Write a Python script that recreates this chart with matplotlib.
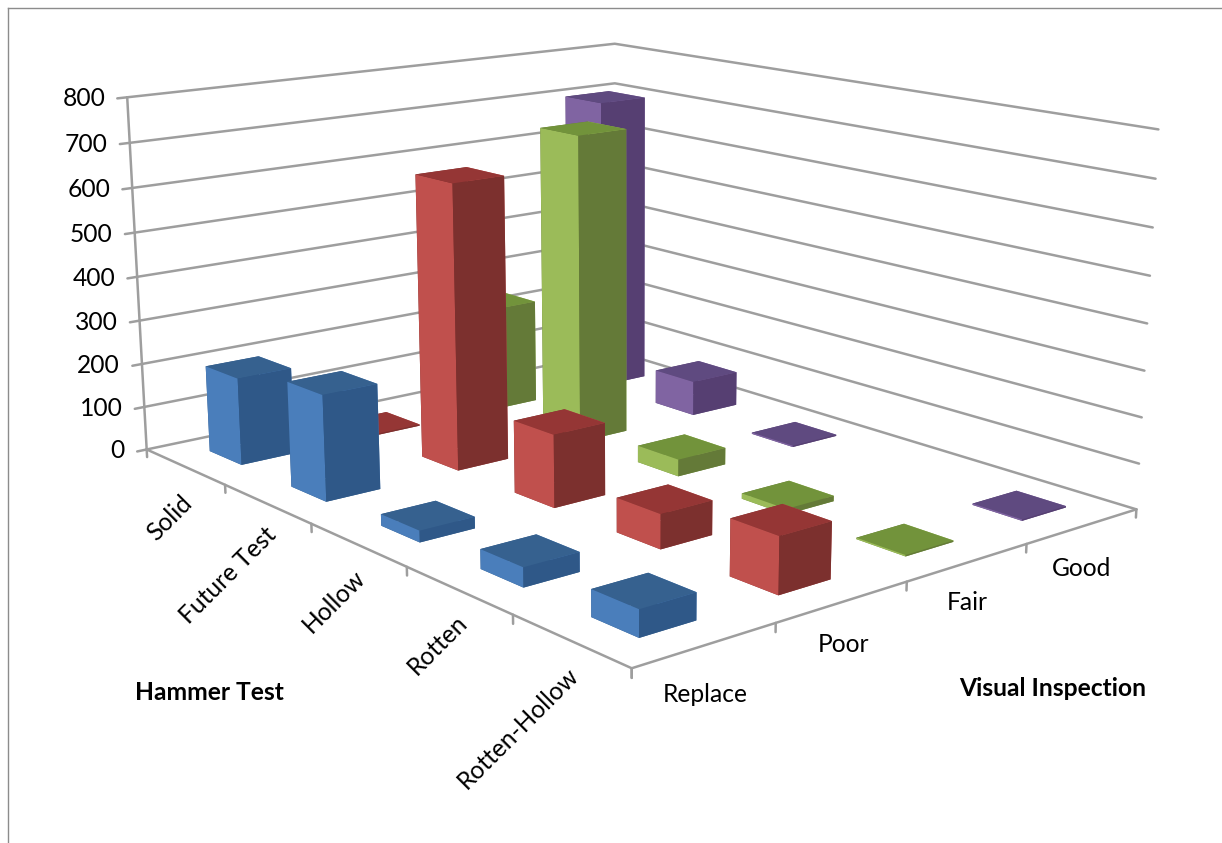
import numpy as np
import matplotlib
matplotlib.use("Agg")
import matplotlib.pyplot as plt
from matplotlib.lines import Line2D
from mpl_toolkits.mplot3d import Axes3D

W, H = 1222, 843
plt.rcParams["font.family"] = ["Lato", "DejaVu Sans"]

hammer_tests = ["Solid", "Future Test", "Hollow", "Rotten", "Rotten-Hollow"]
visual_grades = ["Replace", "Poor", "Fair", "Good"]
z_ticks = [0, 100, 200, 300, 400, 500, 600, 700, 800]

replace_counts = [198, 234, 25, 41, 55]
poor_counts = [3, 640, 160, 74, 118]
fair_counts = [245, 705, 38, 12, 3]
good_counts = [702, 81, 3, 0, 3]
counts = [replace_counts, poor_counts, fair_counts, good_counts]

# (top, lit side, shaded side) for each visual grade
face_colors = [
    ("#36618F", "#4A7EBB", "#2F5888"),
    ("#953635", "#C0504D", "#7C302E"),
    ("#72933B", "#9BBB59", "#647A38"),
    ("#5F4A80", "#8064A2", "#563F72"),
]
BAR_WIDTH = 0.4

# Camera calibration: world point (hammer, grade, count) -> pixel on the canvas
world_pts = np.array([
    (0, 0, 0), (5, 0, 0), (5, 4, 0), (0, 4, 0), (0, 0, 800), (0, 4, 800),
    (5, 4, 800), (0, 4, 700), (5, 4, 100), (1, 0, 0), (2, 0, 0), (5, 1, 0), (5, 3, 0),
], float)
pixel_pts = np.array([
    (147, 448), (632, 669), (1136, 508), (615, 353), (127, 98), (615, 43),
    (1158, 130), (615, 83), (1140, 463), (225, 485), (311, 523), (776, 624), (1026, 544),
], float)


def fit_camera(world, pixel):
    rows = []
    for (x, y, z), (u, v) in zip(world, pixel):
        p = [x, y, z, 1.0]
        rows.append(p + [0, 0, 0, 0] + [-u * c for c in p])
        rows.append([0, 0, 0, 0] + p + [-v * c for c in p])
    rows = np.array(rows)
    scale = np.array([1, 1, 100, 1] * 3, float)
    _, _, vt = np.linalg.svd(rows * scale)
    cam = (vt[-1] * scale).reshape(3, 4)
    return cam if cam[2, 3] > 0 else -cam


CAMERA = fit_camera(world_pts, pixel_pts)


class CalibratedAxes3D(Axes3D):
    """3D axes whose projection comes from a fitted pinhole camera."""

    def apply_aspect(self, position=None):
        pass

    def get_proj(self):
        inv = self.transData.inverted()
        o = inv.transform((0, H))
        ex = inv.transform((1, H)) - o
        ey = inv.transform((0, H - 1)) - o
        row_u = ex[0] * CAMERA[0] + ey[0] * CAMERA[1] + o[0] * CAMERA[2]
        row_v = ex[1] * CAMERA[0] + ey[1] * CAMERA[1] + o[1] * CAMERA[2]
        # depth term -1/w grows with distance from the camera
        return np.array([row_u, row_v, [0, 0, 0, -1.0], CAMERA[2]])


fig = plt.figure(figsize=(W / 100, H / 100), dpi=100, facecolor="white")
ax = CalibratedAxes3D(fig, [0, 0, 1, 1], computed_zorder=False)
fig.add_axes(ax)
ax.set_axis_off()
ax.patch.set_visible(False)

GRID = "#9E9E9E"
line_style = dict(color=GRID, lw=1.8, solid_capstyle="round", zorder=1)

# Wall gridlines
for z in z_ticks:
    ax.plot([0, 0, 5], [0, 4, 4], [z, z, z], **line_style)
    ax.plot([0, 0], [0, -0.07], [z, z], **line_style)

# Count axis and floor edges
ax.plot([0, 0], [0, 0], [0, 800], **line_style)
ax.plot([0, 5, 5], [0, 0, 4], [0, 0, 0], **line_style)
for i in range(6):
    ax.plot([i, i], [0, 0], [0, -18], **line_style)
for j in range(5):
    ax.plot([5, 5], [j, j], [0, -18], **line_style)

# Bars, painted from the far corner toward the viewer
for j in range(len(visual_grades)):
    for i in range(len(hammer_tests)):
        value = counts[j][i]
        if value <= 0:
            continue
        top, lit, shade = face_colors[j]
        bar = ax.bar3d(i + 0.5 - BAR_WIDTH / 2, j + 0.5 - BAR_WIDTH / 2, 0,
                       BAR_WIDTH, BAR_WIDTH, value, shade=False,
                       color=[top, top, lit, lit, shade, shade])
        bar.set_zorder(10 + (3 - j) * 10 + i)
        bar.set_linewidth(0)


def put(px, py, text, **kw):
    fig.text(px / W, 1 - py / H, text, color="black", **kw)


def to_pixel(x, y, z):
    u, v, w = CAMERA @ np.array([x, y, z, 1.0])
    return u / w, v / w


FS = 17.7
for z in z_ticks:
    px, py = to_pixel(0, 0, z)
    put(px - 22, py + 1.5, str(z), fontsize=FS, ha="right", va="center")

hammer_label_ends = [(180, 491), (264, 523), (353, 566), (455, 611), (567, 663)]
for name, (px, py) in zip(hammer_tests, hammer_label_ends):
    put(px, py, name, fontsize=FS, rotation=45, ha="right", va="top",
        rotation_mode="anchor")

grade_label_centres = [(705, 694), (843, 645), (967, 603), (1082, 569)]
for name, (px, py) in zip(visual_grades, grade_label_centres):
    put(px, py, name, fontsize=FS, ha="center", va="center")

put(209, 692, "Hammer Test", fontsize=FS, fontweight="bold", ha="center", va="center")
put(1053, 688, "Visual Inspection", fontsize=FS, fontweight="bold", ha="center", va="center")

# Chart frame visible along the top and left edges
frame = "#8C8C8C"
fig.add_artist(Line2D([8 / W, 1], [1 - 8 / H, 1 - 8 / H], color=frame, lw=1))
fig.add_artist(Line2D([8 / W, 8 / W], [0, 1 - 8 / H], color=frame, lw=1))

fig.savefig("out.png", dpi=100)
